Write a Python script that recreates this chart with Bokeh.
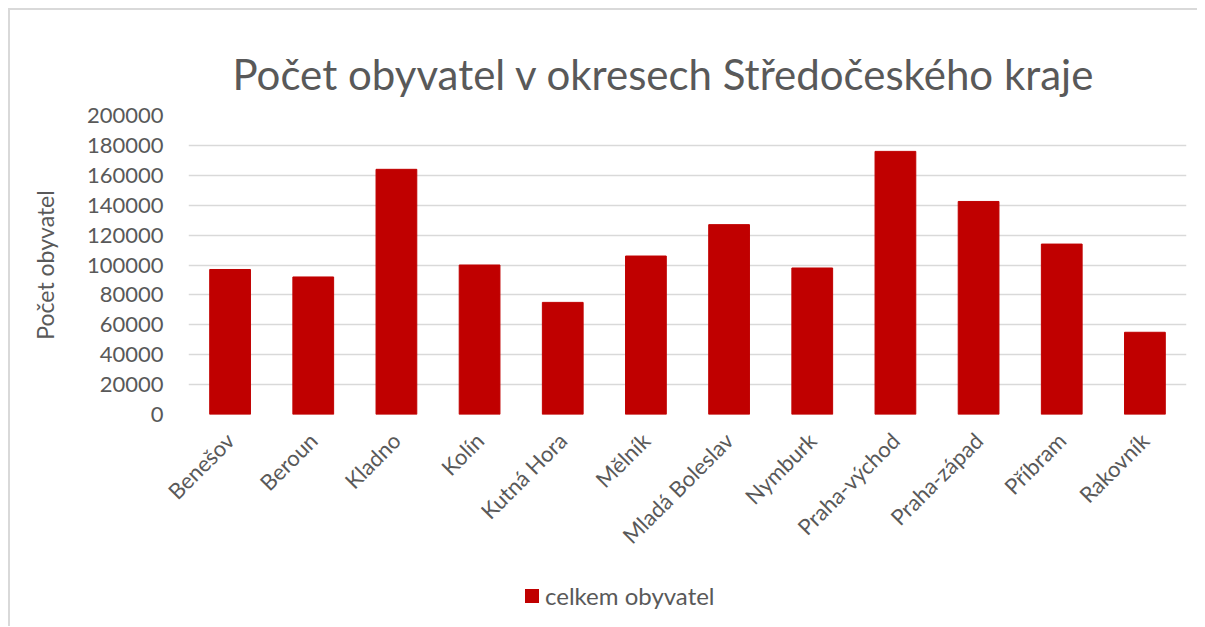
from math import pi
from bokeh.plotting import figure
from bokeh.layouts import column
from bokeh.models import (ColumnDataSource, FixedTicker, Div,
                          BasicTickFormatter, Range1d, FactorRange)
from bokeh.embed import file_html
from bokeh.resources import INLINE

# ---- data ----
okresy = ["Benešov", "Beroun", "Kladno", "Kolín", "Kutná Hora", "Mělník",
          "Mladá Boleslav", "Nymburk", "Praha-východ", "Praha-západ",
          "Příbram", "Rakovník"]
obyvatel = [97000, 92000, 164000, 100000, 75000, 106000,
            127000, 98000, 176000, 142500, 114000, 55000]
y_ticks = [0, 20000, 40000, 60000, 80000, 100000, 120000, 140000,
           160000, 180000, 200000]
title_text = "Počet obyvatel v okresech Středočeského kraje"
y_label = "Počet obyvatel"
series_name = "celkem obyvatel"

FONT = "Lato"
TXT = "#595959"
BAR = "#C00000"
GRID = "#D9D9D9"

source = ColumnDataSource(data=dict(okres=okresy, pocet=obyvatel))

p = figure(frame_width=998, frame_height=299,
           x_range=FactorRange(*okresy, range_padding=0),
           y_range=Range1d(0, 200000),
           output_backend="svg", toolbar_location=None,
           min_border_left=178, min_border_right=11,
           min_border_top=105, min_border_bottom=162)

p.title.text = title_text
p.title.text_font = FONT
p.title.text_font_size = "42px"
p.title.text_font_style = "normal"
p.title.text_color = TXT
p.title.align = "left"
p.title.offset = 44
p.title.standoff = 34

r = p.vbar(x="okres", top="pocet", width=0.49, source=source,
           fill_color=BAR, line_color=BAR)

p.outline_line_color = None
p.xgrid.grid_line_color = None
p.ygrid.grid_line_color = GRID
p.ygrid.grid_line_width = 1.5

p.yaxis.ticker = FixedTicker(ticks=y_ticks)
p.yaxis.formatter = BasicTickFormatter(use_scientific=False)
p.yaxis.axis_line_color = None
p.yaxis.major_tick_line_color = None
p.yaxis.minor_tick_line_color = None
p.yaxis.major_label_standoff = 19
p.yaxis.major_label_text_font = FONT
p.yaxis.major_label_text_font_size = "22px"
p.yaxis.major_label_text_color = TXT
p.yaxis.axis_label = y_label
p.yaxis.axis_label_text_font = FONT
p.yaxis.axis_label_text_font_size = "23px"
p.yaxis.axis_label_text_font_style = "normal"
p.yaxis.axis_label_text_color = TXT
p.yaxis.axis_label_standoff = 25

p.xaxis.axis_line_color = None
p.xaxis.major_tick_line_color = None
p.xaxis.minor_tick_line_color = None
p.xaxis.major_label_orientation = pi / 4
p.xaxis.major_label_standoff = 16
p.xaxis.major_label_text_font = FONT
p.xaxis.major_label_text_font_size = "22px"
p.xaxis.major_label_text_color = TXT

legend_html = (
    f'<div style="display:flex;align-items:center;">'
    f'<span style="display:inline-block;width:14px;height:14px;background:{BAR};'
    f'margin-right:6px;"></span>'
    f'<span style="font-family:Lato;font-size:24px;color:{TXT};">{series_name}</span>'
    f'</div>'
)
legend_div = Div(text=legend_html, width=300, height=47, margin=(3, 0, 0, 515))

layout = column(p, legend_div, spacing=0,
                styles={"margin-left": "8px", "margin-top": "8px",
                        "border-top": "2px solid #D9D9D9",
                        "border-left": "2px solid #D9D9D9"})

open("out.html", "w").write(file_html(layout, INLINE))
